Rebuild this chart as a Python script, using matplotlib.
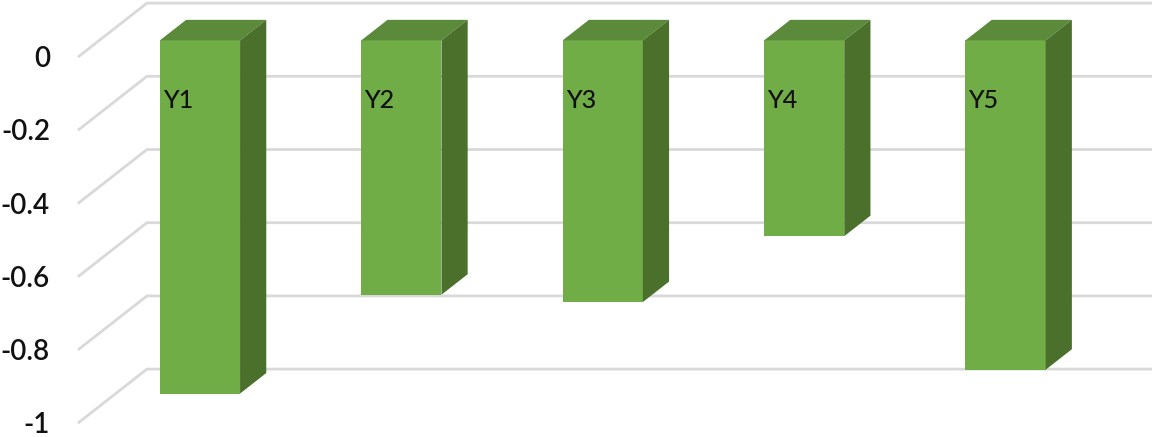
import matplotlib.pyplot as plt
from matplotlib.patches import Polygon

# data
categories = ["Y1", "Y2", "Y3", "Y4", "Y5"]
values = [-0.965, -0.695, -0.715, -0.535, -0.90]
ticks = [0, -0.2, -0.4, -0.6, -0.8, -1]
tick_labels = ["0", "-0.2", "-0.4", "-0.6", "-0.8", "-1"]

# colours
front_c = "#70ad47"
side_c = "#4a702c"
top_c = "#5a8a3a"
grid_c = "#d9d9d9"

# 3d look: offsets of the floor depth (x in category units, y in value units)
DX, DY = 0.3426, 0.1475
bar_front = 0.31   # depth fraction of the bar front face
bar_back = 0.69
half_w = 0.199

fig = plt.figure(figsize=(11.55, 4.37), dpi=100)
ax = fig.add_axes([0, 0, 1, 1])
ax.set_xlim(-0.993, 4.742)
ax.set_ylim(-1.038, 0.156)
ax.axis("off")

# gridlines: diagonal on the side wall, horizontal on the back wall
x_side = -0.606
x_right = 4.727
for t, lab in zip(ticks, tick_labels):
    ax.plot([x_side, x_side + DX, x_right], [t, t + DY, t + DY],
            color=grid_c, lw=2, zorder=1, solid_capstyle="butt")
    ax.text(-0.745, t - 0.006, lab, ha="right", va="center",
            fontsize=20, family="Lato", fontweight="semibold", color="#111111")

# bars
fz = bar_front * DY
ddx = (bar_back - bar_front) * DX
ddy = (bar_back - bar_front) * DY
for i, (cat, v) in enumerate(zip(categories, values)):
    xl, xr = i - half_w, i + half_w
    front = Polygon([(xl, fz), (xr, fz), (xr, v + fz), (xl, v + fz)],
                    closed=True, facecolor=front_c, edgecolor="none", zorder=3)
    top = Polygon([(xl, fz), (xr, fz), (xr + ddx, fz + ddy), (xl + ddx, fz + ddy)],
                  closed=True, facecolor=top_c, edgecolor="none", zorder=3)
    side = Polygon([(xr, fz), (xr + ddx, fz + ddy), (xr + ddx, v + fz + ddy), (xr, v + fz)],
                   closed=True, facecolor=side_c, edgecolor="none", zorder=3)
    for p in (front, top, side):
        ax.add_patch(p)
    ax.text(xl + 0.015, -0.1175, cat, ha="left", va="center",
            fontsize=18, family="Lato", fontweight="medium", color="#111111", zorder=4)

fig.savefig("out.png", dpi=100)
